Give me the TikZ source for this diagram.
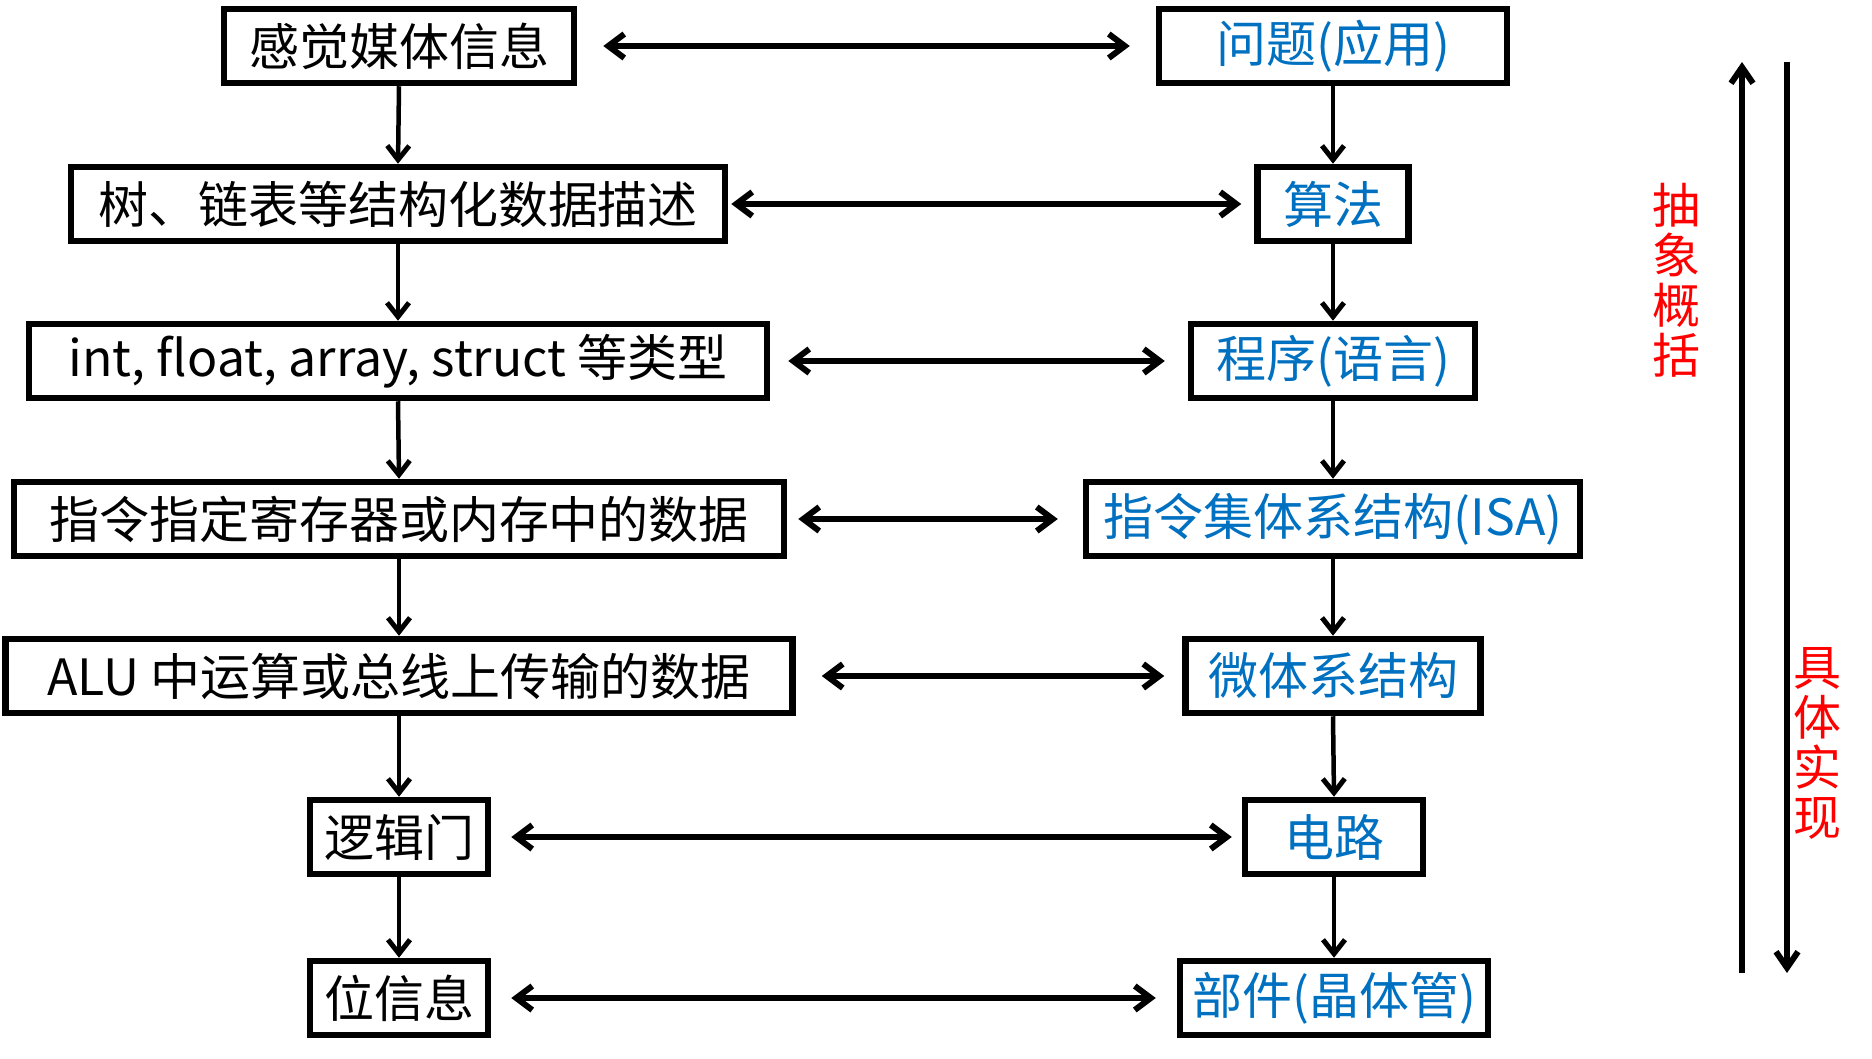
\documentclass[tikz,border=0pt]{standalone}
\usepackage{fontspec}
\setmainfont{Noto Sans CJK SC}
\usetikzlibrary{arrows.meta}
\definecolor{myblue}{RGB}{0,112,192}
\definecolor{myred}{RGB}{255,0,0}
\tikzset{
  box/.style={draw=black, line width=6.5pt, minimum height=74pt, inner sep=0pt,
    font=\fontsize{50}{56}\selectfont},
  lbox/.style={box, text=black},
  rbox/.style={box, text=myblue},
  conn/.style={line width=4.5pt, -{Straight Barb[length=14pt,width=22pt,line width=5pt]}},
  dconn/.style={line width=6pt, {Straight Barb[length=16pt,width=24pt,line width=6pt]}-{Straight Barb[length=16pt,width=24pt,line width=6pt]}},
  side/.style={line width=6pt, -{Straight Barb[length=16pt,width=22pt,line width=6pt]}},
  vlabel/.style={text=myred, align=center, inner sep=0pt, font=\fontsize{48}{50}\selectfont}
}
\begin{document}
\begin{tikzpicture}[x=1pt,y=-1pt]
\useasboundingbox (0,0) rectangle (1872,1059);
% left column
\node[lbox, minimum width=350pt] (l1) at (399,46) {感觉媒体信息};
\node[lbox, minimum width=654pt] (l2) at (398,204) {树、链表等结构化数据描述};
\node[lbox, minimum width=738pt] (l3) at (398,361) {int, float, array, struct 等类型};
\node[lbox, minimum width=770pt] (l4) at (399,519) {指令指定寄存器或内存中的数据};
\node[lbox, minimum width=787pt] (l5) at (399,676) {ALU 中运算或总线上传输的数据};
\node[lbox, minimum width=178pt] (l6) at (399,837) {逻辑门};
\node[lbox, minimum width=178pt] (l7) at (399,998) {位信息};
% right column
\node[rbox, minimum width=348pt] (r1) at (1333,46) {问题(应用)};
\node[rbox, minimum width=151pt] (r2) at (1333,204) {算法};
\node[rbox, minimum width=284pt] (r3) at (1333,361) {程序(语言)};
\node[rbox, minimum width=494pt] (r4) at (1333,519) {指令集体系结构(ISA)};
\node[rbox, minimum width=295pt] (r5) at (1333,676) {微体系结构};
\node[rbox, minimum width=178pt] (r6) at (1334,837) {电路};
\node[rbox, minimum width=308pt] (r7) at (1334,998) {部件(晶体管)};
% vertical arrows
\foreach \a/\b in {1/2,2/3,3/4,4/5,5/6,6/7}{
  \draw[conn] (l\a.south) -- (l\b.north);
  \draw[conn] (r\a.south) -- (r\b.north);
}
% horizontal double arrows
\draw[dconn, shorten <=26pt, shorten >=26pt] (l1.east) -- (r1.west);
\draw[dconn, shorten <=3pt, shorten >=13pt] (l2.east) -- (r2.west);
\draw[dconn, shorten <=18pt, shorten >=23pt] (l3.east) -- (r3.west);
\draw[dconn, shorten <=11pt, shorten >=25pt] (l4.east) -- (r4.west);
\draw[dconn, shorten <=26pt, shorten >=18pt] (l5.east) -- (r5.west);
\draw[dconn, shorten <=20pt, shorten >=10pt] (l6.east) -- (r6.west);
\draw[dconn, shorten <=20pt, shorten >=21pt] (l7.east) -- (r7.west);
% side arrows
\coordinate (upS) at (1742,973);
\coordinate (upE) at (1742,62);
\coordinate (dnS) at (1787,62);
\coordinate (dnE) at (1787,973);
\draw[side] (upS) -- (upE);
\draw[side] (dnS) -- (dnE);
\node[vlabel] (abs) at (1676,280) {抽\\象\\概\\括};
\node[vlabel] (con) at (1817,743) {具\\体\\实\\现};
\end{tikzpicture}
\end{document}
